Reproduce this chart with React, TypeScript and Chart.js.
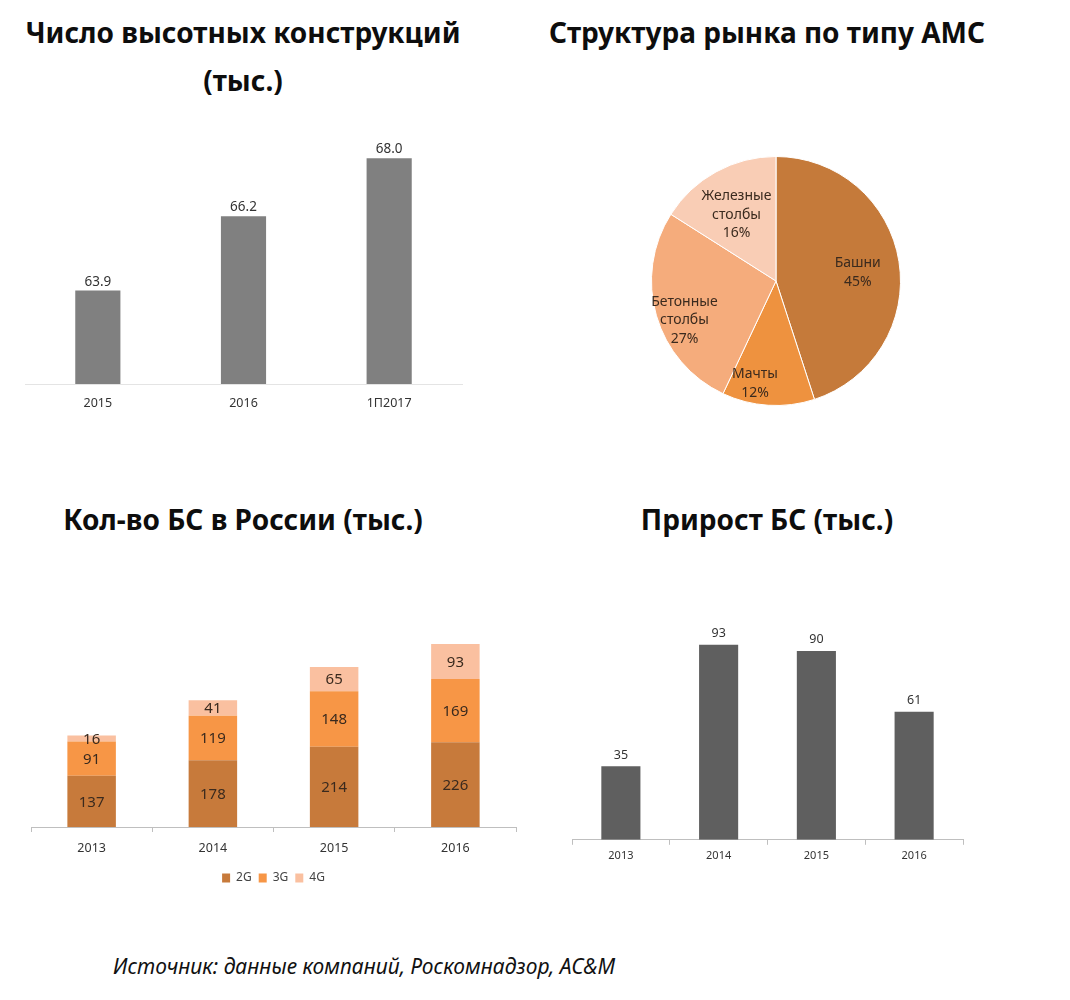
import React, { useEffect, useRef } from "react";
import { Chart, registerables } from "chart.js";

Chart.register(...registerables);

// ---------- DATA ----------
const towerCategories = ["2015", "2016", "1П2017"];
const towerValues = [63.9, 66.2, 68.0];

const pieLabels = [["Башни"], ["Мачты"], ["Бетонные", "столбы"], ["Железные", "столбы"]];
const pieValues = [45, 12, 27, 16];

const bsYears = ["2013", "2014", "2015", "2016"];
const bs2G = [137, 178, 214, 226];
const bs3G = [91, 119, 148, 169];
const bs4G = [16, 41, 65, 93];
const bsSeriesNames = ["2G", "3G", "4G"];

const growthYears = ["2013", "2014", "2015", "2016"];
const growthValues = [35, 93, 90, 61];

// ---------- STYLE ----------
const FONT = "'Noto Sans', 'DejaVu Sans', sans-serif";
const TEXT = "#333333";
// label placement inside pie slices (fraction of radius, angle nudge in degrees)
const pieLabelRadius = [0.66, 0.84, 0.8, 0.62];
const pieLabelNudge = [3, 8, -7, -2];

const topLabelPlugin = (fmt: (v: number) => string, size: number, offset: number) => ({
  id: "topLabels",
  afterDatasetsDraw(chart: any) {
    const ctx = chart.ctx;
    chart.data.datasets.forEach((ds: any, i: number) => {
      const meta = chart.getDatasetMeta(i);
      meta.data.forEach((el: any, j: number) => {
        ctx.save();
        ctx.font = `${size}px ${FONT}`;
        ctx.fillStyle = TEXT;
        ctx.textAlign = "center";
        ctx.textBaseline = "bottom";
        ctx.fillText(fmt(ds.data[j]), el.x, el.y - offset);
        ctx.restore();
      });
    });
  },
});

const innerLabelPlugin = {
  id: "innerLabels",
  afterDatasetsDraw(chart: any) {
    const ctx = chart.ctx;
    chart.data.datasets.forEach((ds: any, i: number) => {
      const meta = chart.getDatasetMeta(i);
      meta.data.forEach((el: any, j: number) => {
        const p = el.getProps(["x", "y", "base"], true);
        ctx.save();
        ctx.font = `15px ${FONT}`;
        ctx.fillStyle = "#3a2a1e";
        ctx.textAlign = "center";
        ctx.textBaseline = "middle";
        ctx.fillText(String(ds.data[j]), p.x, (p.y + p.base) / 2 + 1);
        ctx.restore();
      });
    });
  },
};

const pieLabelPlugin = {
  id: "pieLabels",
  afterDatasetsDraw(chart: any) {
    const ctx = chart.ctx;
    const meta = chart.getDatasetMeta(0);
    const ds = chart.data.datasets[0];
    meta.data.forEach((el: any, j: number) => {
      const p = el.getProps(["x", "y", "startAngle", "endAngle", "outerRadius"], true);
      const mid = (p.startAngle + p.endAngle) / 2 + (pieLabelNudge[j] * Math.PI) / 180;
      const r = p.outerRadius * pieLabelRadius[j];
      const cx = p.x + Math.cos(mid) * r;
      const cy = p.y + Math.sin(mid) * r;
      const lines = [...pieLabels[j], ds.data[j] + "%"];
      const lh = 18.5;
      ctx.save();
      ctx.font = `14px ${FONT}`;
      ctx.fillStyle = "#3a2a1e";
      ctx.textAlign = "center";
      ctx.textBaseline = "middle";
      lines.forEach((t: string, k: number) => {
        ctx.fillText(t, cx, cy + (k - (lines.length - 1) / 2) * lh);
      });
      ctx.restore();
    });
  },
};

function useChart(make: (c: HTMLCanvasElement) => Chart) {
  const ref = useRef<HTMLCanvasElement | null>(null);
  useEffect(() => {
    if (!ref.current) return;
    const ch = make(ref.current);
    return () => ch.destroy();
  }, []);
  return ref;
}

const box = (left: number, top: number, width: number, height: number): React.CSSProperties => ({
  position: "absolute",
  left,
  top,
  width,
  height,
});

function TowerChart() {
  const ref = useChart(
    (c) =>
      new Chart(c, {
        type: "bar",
        data: {
          labels: towerCategories,
          datasets: [{ data: towerValues, backgroundColor: "#808080", barPercentage: 0.31, categoryPercentage: 1 }],
        },
        options: {
          animation: false,
          responsive: false,
          layout: { padding: { left: 25, right: 28, top: 11, bottom: 10 } },
          plugins: { legend: { display: false }, tooltip: { enabled: false } },
          scales: {
            y: { display: false, min: 61, max: 69 },
            x: {
              grid: { display: false, drawTicks: false },
              border: { display: true, color: "#e4e4e4" },
              ticks: { padding: 12, color: TEXT, font: { family: FONT, size: 12.5 } },
            },
          },
        },
        plugins: [topLabelPlugin((v) => v.toFixed(1), 13.5, 2)],
      } as any)
  );
  return <canvas ref={ref} width={490} height={318} style={box(0, 115, 490, 318)} />;
}

function PieChart() {
  const ref = useChart(
    (c) =>
      new Chart(c, {
        type: "pie",
        data: {
          labels: pieLabels.map((l) => l.join(" ")),
          datasets: [
            {
              data: pieValues,
              backgroundColor: ["#C57A3A", "#EE923F", "#F5AC7C", "#F9CDB5"],
              borderColor: "#ffffff",
              borderWidth: 1,
            },
          ],
        },
        options: {
          animation: false,
          responsive: false,
          layout: { padding: 11 },
          plugins: { legend: { display: false }, tooltip: { enabled: false } },
        },
        plugins: [pieLabelPlugin],
      } as any)
  );
  return <canvas ref={ref} width={272} height={272} style={box(640, 145, 272, 272)} />;
}

function BsChart() {
  const colors = ["#C77A3B", "#F79646", "#FAC0A0"];
  const series = [bs2G, bs3G, bs4G];
  const ref = useChart(
    (c) =>
      new Chart(c, {
        type: "bar",
        data: {
          labels: bsYears,
          datasets: series.map((d, i) => ({
            label: bsSeriesNames[i],
            data: d,
            backgroundColor: colors[i],
            barPercentage: 0.4,
            categoryPercentage: 1,
          })),
        },
        options: {
          animation: false,
          responsive: false,
          layout: { padding: { left: 31, right: 24, top: 32, bottom: 0 } },
          plugins: {
            tooltip: { enabled: false },
            legend: {
              position: "bottom",
              labels: {
                boxWidth: 8,
                boxHeight: 9,
                padding: 7,
                color: "#444",
                font: { family: FONT, size: 12 },
              },
            },
          },
          scales: {
            y: { display: false, stacked: true, min: 0, max: 520 },
            x: {
              stacked: true,
              grid: { drawOnChartArea: false, drawTicks: true, tickLength: 5, color: "#bfbfbf" },
              border: { display: true, color: "#bfbfbf" },
              ticks: { padding: 9, color: TEXT, font: { family: FONT, size: 12.5 } },
            },
          },
        },
        plugins: [innerLabelPlugin],
      } as any)
  );
  return <canvas ref={ref} width={540} height={294} style={box(0, 600, 540, 294)} />;
}

function GrowthChart() {
  const ref = useChart(
    (c) =>
      new Chart(c, {
        type: "bar",
        data: {
          labels: growthYears,
          datasets: [{ data: growthValues, backgroundColor: "#5f5f5f", barPercentage: 0.4, categoryPercentage: 1 }],
        },
        options: {
          animation: false,
          responsive: false,
          layout: { padding: { left: 32, right: 27, top: 30, bottom: 10 } },
          plugins: { legend: { display: false }, tooltip: { enabled: false } },
          scales: {
            y: { display: false, min: 0, max: 100 },
            x: {
              grid: { drawOnChartArea: false, drawTicks: true, tickLength: 5, color: "#bfbfbf" },
              border: { display: true, color: "#bfbfbf" },
              ticks: { padding: 4, color: TEXT, font: { family: FONT, size: 11 } },
            },
          },
        },
        plugins: [topLabelPlugin((v) => String(v), 12.5, 5)],
      } as any)
  );
  return <canvas ref={ref} width={450} height={276} style={box(540, 600, 450, 276)} />;
}

const titleStyle = (left: number, top: number, width: number): React.CSSProperties => ({
  position: "absolute",
  left,
  top,
  width,
  textAlign: "center",
  fontFamily: FONT,
  fontWeight: 700,
  fontSize: 28,
  lineHeight: "48px",
  color: "#0d0d0d",
  whiteSpace: "nowrap",
});

export default function App() {
  return (
    <div style={{ position: "absolute", left: 0, top: 0, width: 1070, height: 1000, background: "#fff", overflow: "hidden" }}>
      <div style={titleStyle(0, 8, 486)}>
        Число высотных конструкций
        <br />
        (тыс.)
      </div>
      <div style={titleStyle(534, 8, 466)}>Структура рынка по типу АМС</div>
      <div style={titleStyle(0, 495, 486)}>Кол-во БС в России (тыс.)</div>
      <div style={titleStyle(534, 495, 466)}>Прирост БС (тыс.)</div>
      <TowerChart />
      <PieChart />
      <BsChart />
      <GrowthChart />
      <div
        style={{
          position: "absolute",
          left: 113,
          top: 951,
          fontFamily: FONT,
          fontStyle: "italic",
          fontSize: 21,
          lineHeight: "30px",
          color: "#111",
          whiteSpace: "nowrap",
        }}
      >
        Источник: данные компаний, Роскомнадзор, AC&amp;M
      </div>
    </div>
  );
}
